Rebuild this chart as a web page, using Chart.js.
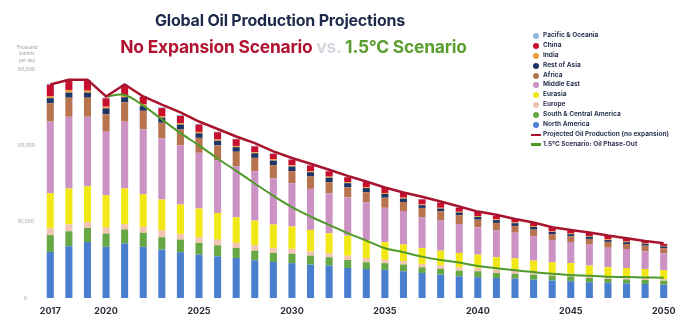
<!DOCTYPE html>
<html>
<head>
<meta charset="utf-8">
<script src="https://cdn.jsdelivr.net/npm/chart.js@4"></script>
<style>
  body { margin: 0; background: #fff; }
  #wrap { position: relative; width: 700px; height: 336px; font-family: "Inter", "Noto Sans", sans-serif; }
  #chart { position: absolute; left: 0; top: 0; }
  .title { position: absolute; left: 0; width: 560px; top: 10px; text-align: center; font-weight: 700; font-size: 16px; color: #1e2a4a; letter-spacing: -0.2px; }
  .subtitle { position: absolute; left: 0; width: 587px; top: 36px; text-align: center; font-weight: 700; font-size: 17.4px; letter-spacing: -0.2px; }
  .subtitle .red { color: #b01230; }
  .subtitle .vs { color: #d3d7df; }
  .subtitle .green { color: #5a9e2f; }
  .yunit { position: absolute; left: 12px; width: 30px; top: 45px; text-align: center; font-size: 4.5px; line-height: 6.3px; color: #9a9a9a; }
  #legend { position: absolute; left: 531px; top: 31px; }
  .item { height: 9.9px; line-height: 9.9px; font-size: 6.5px; font-weight: 700; color: #2b3553; white-space: nowrap; position: relative; padding-left: 12px; }
  .dot { position: absolute; left: 2px; top: 2px; width: 6px; height: 6px; border-radius: 50%; }
  .dash { position: absolute; left: 0; top: 3.7px; width: 10px; height: 2.5px; }
</style>
</head>
<body>
<div id="wrap">
  <canvas id="chart" width="700" height="336"></canvas>
  <div class="title">Global Oil Production Projections</div>
  <div class="subtitle"><span class="red">No Expansion Scenario</span> <span class="vs">vs.</span> <span class="green">1.5°C Scenario</span></div>
  <div class="yunit">Thousand<br>barrels<br>per day</div>
  <div id="legend"></div>
</div>
<script>
// Années
const years = ['2017','2018','2019','2020','2021','2022','2023','2024','2025','2026','2027','2028','2029','2030','2031','2032','2033',
  '2034','2035','2036','2037','2038','2039','2040','2041','2042','2043','2044','2045','2046','2047','2048','2049','2050'];
const shownYears = ['2017','2020','2025','2030','2035','2040','2045','2050'];

// Production par région (milliers de barils / jour)
const northAmerica = [30200,33900,36700,33500,35700,33500,31700,30000,28400,27300,26200,24700,23600,22800,21900,21200,19700,
  19000,18400,17500,16400,15300,14200,13600,13100,12700,12000,11400,11000,10300,9900,9600,9200,8700];
const southCentralAmerica = [11000,9800,9200,8700,9200,9200,8100,8300,7700,7200,6600,6300,5900,6100,5900,5500,5200,
  4400,4400,4400,3700,3900,3700,3900,3300,3100,3300,3300,3100,2800,2600,2600,2600,2600];
const europe = [4400,4600,3900,3900,3500,3900,4400,3700,3700,3700,3300,3500,3300,3300,2800,2600,2800,
  2800,2200,2200,2200,2200,2200,2200,2200,2200,1800,1500,1800,1500,1300,1300,1300,1100];
const eurasia = [23000,23400,23400,21200,23400,21400,20300,19200,18800,17500,16800,16200,15300,14600,14000,13100,13100,
  11800,11600,11000,10500,9600,9400,8700,8100,7900,7400,7200,7000,6600,6400,6100,5900,5900];
const middleEast = [47000,47000,45500,41600,43700,42400,40000,38900,36500,34300,33500,32400,30200,28400,26900,26200,25100,
  24700,22500,21900,20100,19700,19000,17900,17500,16900,15900,14600,13800,13800,12700,12500,11600,11000];
const africa = [12000,12500,12500,11400,12700,12200,10300,10300,9800,10000,9400,8700,8700,7900,8100,7200,6600,
  6600,6600,5900,6100,6100,5700,5000,5000,4400,4400,3900,3700,3700,3900,3300,3700,3300];
const restOfAsia = [3300,3300,3300,3900,3300,3100,3300,3200,3000,3000,3000,3000,3000,3000,2800,3000,2700,
  2700,2500,2200,1800,1800,1800,1800,1800,1800,1800,1400,1400,1400,1200,1200,1200,1200];
const india = [1100,1700,1300,1100,1300,1100,800,900,900,800,800,800,800,800,700,700,600,
  600,600,600,500,500,500,500,500,500,500,400,400,400,400,400,300,300];
const china = [7700,6600,6600,5500,6600,5000,5500,4800,4800,4800,4400,3700,3700,3700,3700,3500,3300,
  3300,3300,3100,3300,3300,2600,2800,2200,2200,2200,2600,2200,2200,2200,2200,1800,1300];
const pacificOceania = [600,600,600,500,600,500,500,500,500,400,400,400,400,400,400,400,300,
  300,300,300,300,300,300,300,300,300,300,200,200,200,200,200,200,200];

// Courbes
const projectedNoExpansion = [139800,143000,143000,132000,139800,132000,126600,121600,115600,110700,105800,101500,96000,91700,87900,84000,80000,
  76300,72400,69100,66300,63200,59900,56600,54500,51800,49400,46400,44600,42900,40900,39200,37400,35900];
const scenario15 = [null,null,null,132000,133000,126000,117000,108000,100000,91400,83300,75000,66900,59500,53400,47900,42500,
  37600,32600,30000,27100,24900,23200,21000,19500,18200,17000,15900,15100,14500,14000,13700,13500,13300];

const yTicks = [0, 50000, 100000, 150000];

// Séries empilées : du bas vers le haut
const series = [
  { label: 'North America', data: northAmerica, color: '#4a7fd0' },
  { label: 'South & Central America', data: southCentralAmerica, color: '#67a845' },
  { label: 'Europe', data: europe, color: '#f1c3b1' },
  { label: 'Eurasia', data: eurasia, color: '#f3e817' },
  { label: 'Middle East', data: middleEast, color: '#cc92c4' },
  { label: 'Africa', data: africa, color: '#b8734f' },
  { label: 'Rest of Asia', data: restOfAsia, color: '#1d3466' },
  { label: 'India', data: india, color: '#e9a23b' },
  { label: 'China', data: china, color: '#c8102e' },
  { label: 'Pacific & Oceania', data: pacificOceania, color: '#8db8e0' }
];
const lines = [
  { label: 'Projected Oil Production (no expansion)', data: projectedNoExpansion, color: '#a8132d', width: 2.5 },
  { label: '1.5°C Scenario: Oil Phase-Out', data: scenario15, color: '#4e9a2b', width: 2 }
];

const datasets = series.map(s => ({
  type: 'bar',
  label: s.label,
  data: s.data,
  backgroundColor: s.color,
  borderWidth: 0,
  stack: 'regions',
  order: 1,
  categoryPercentage: 1,
  barPercentage: 0.38
}));
lines.forEach((l, i) => {
  datasets.push({
    type: 'line',
    label: l.label,
    data: l.data,
    borderColor: l.color,
    backgroundColor: l.color,
    borderWidth: l.width,
    pointRadius: 0,
    tension: i === 0 ? 0 : 0.35,
    spanGaps: false,
    stack: 'line' + i,
    order: 0
  });
});

new Chart(document.getElementById('chart'), {
  data: { labels: years, datasets: datasets },
  options: {
    responsive: false,
    animation: false,
    layout: { padding: { left: 18, right: 27, top: 69, bottom: 19 } },
    plugins: { legend: { display: false }, tooltip: { enabled: false } },
    scales: {
      x: {
        stacked: true,
        grid: { display: false, drawTicks: false },
        border: { display: false },
        afterFit: function (scale) { scale.height = 19; },
        ticks: {
          autoSkip: false,
          maxRotation: 0,
          padding: 8,
          color: '#2b2b38',
          font: { family: 'Inter', weight: 'bold', size: 9 },
          callback: function (value, index) {
            return shownYears.includes(years[index]) ? years[index] : '';
          }
        }
      },
      y: {
        stacked: true,
        min: 0,
        max: 150000,
        grid: { display: false, drawTicks: false },
        border: { display: false },
        afterFit: function (scale) { scale.width = 23; },
        afterBuildTicks: function (scale) { scale.ticks = yTicks.map(v => ({ value: v })); },
        ticks: {
          padding: 6,
          crossAlign: 'center',
          color: '#9a9a9a',
          font: { family: 'Inter', size: 5 },
          callback: function (value) {
            return new Intl.NumberFormat('en-US').format(value);
          }
        }
      }
    }
  }
});

// Légende HTML (ordre inversé, comme l'original)
const legend = document.getElementById('legend');
series.slice().reverse().forEach(s => {
  legend.innerHTML += '<div class="item"><span class="dot" style="background:' + s.color + '"></span>' + s.label + '</div>';
});
lines.forEach(l => {
  legend.innerHTML += '<div class="item"><span class="dash" style="background:' + l.color + '"></span>' + l.label + '</div>';
});
</script>
</body>
</html>
